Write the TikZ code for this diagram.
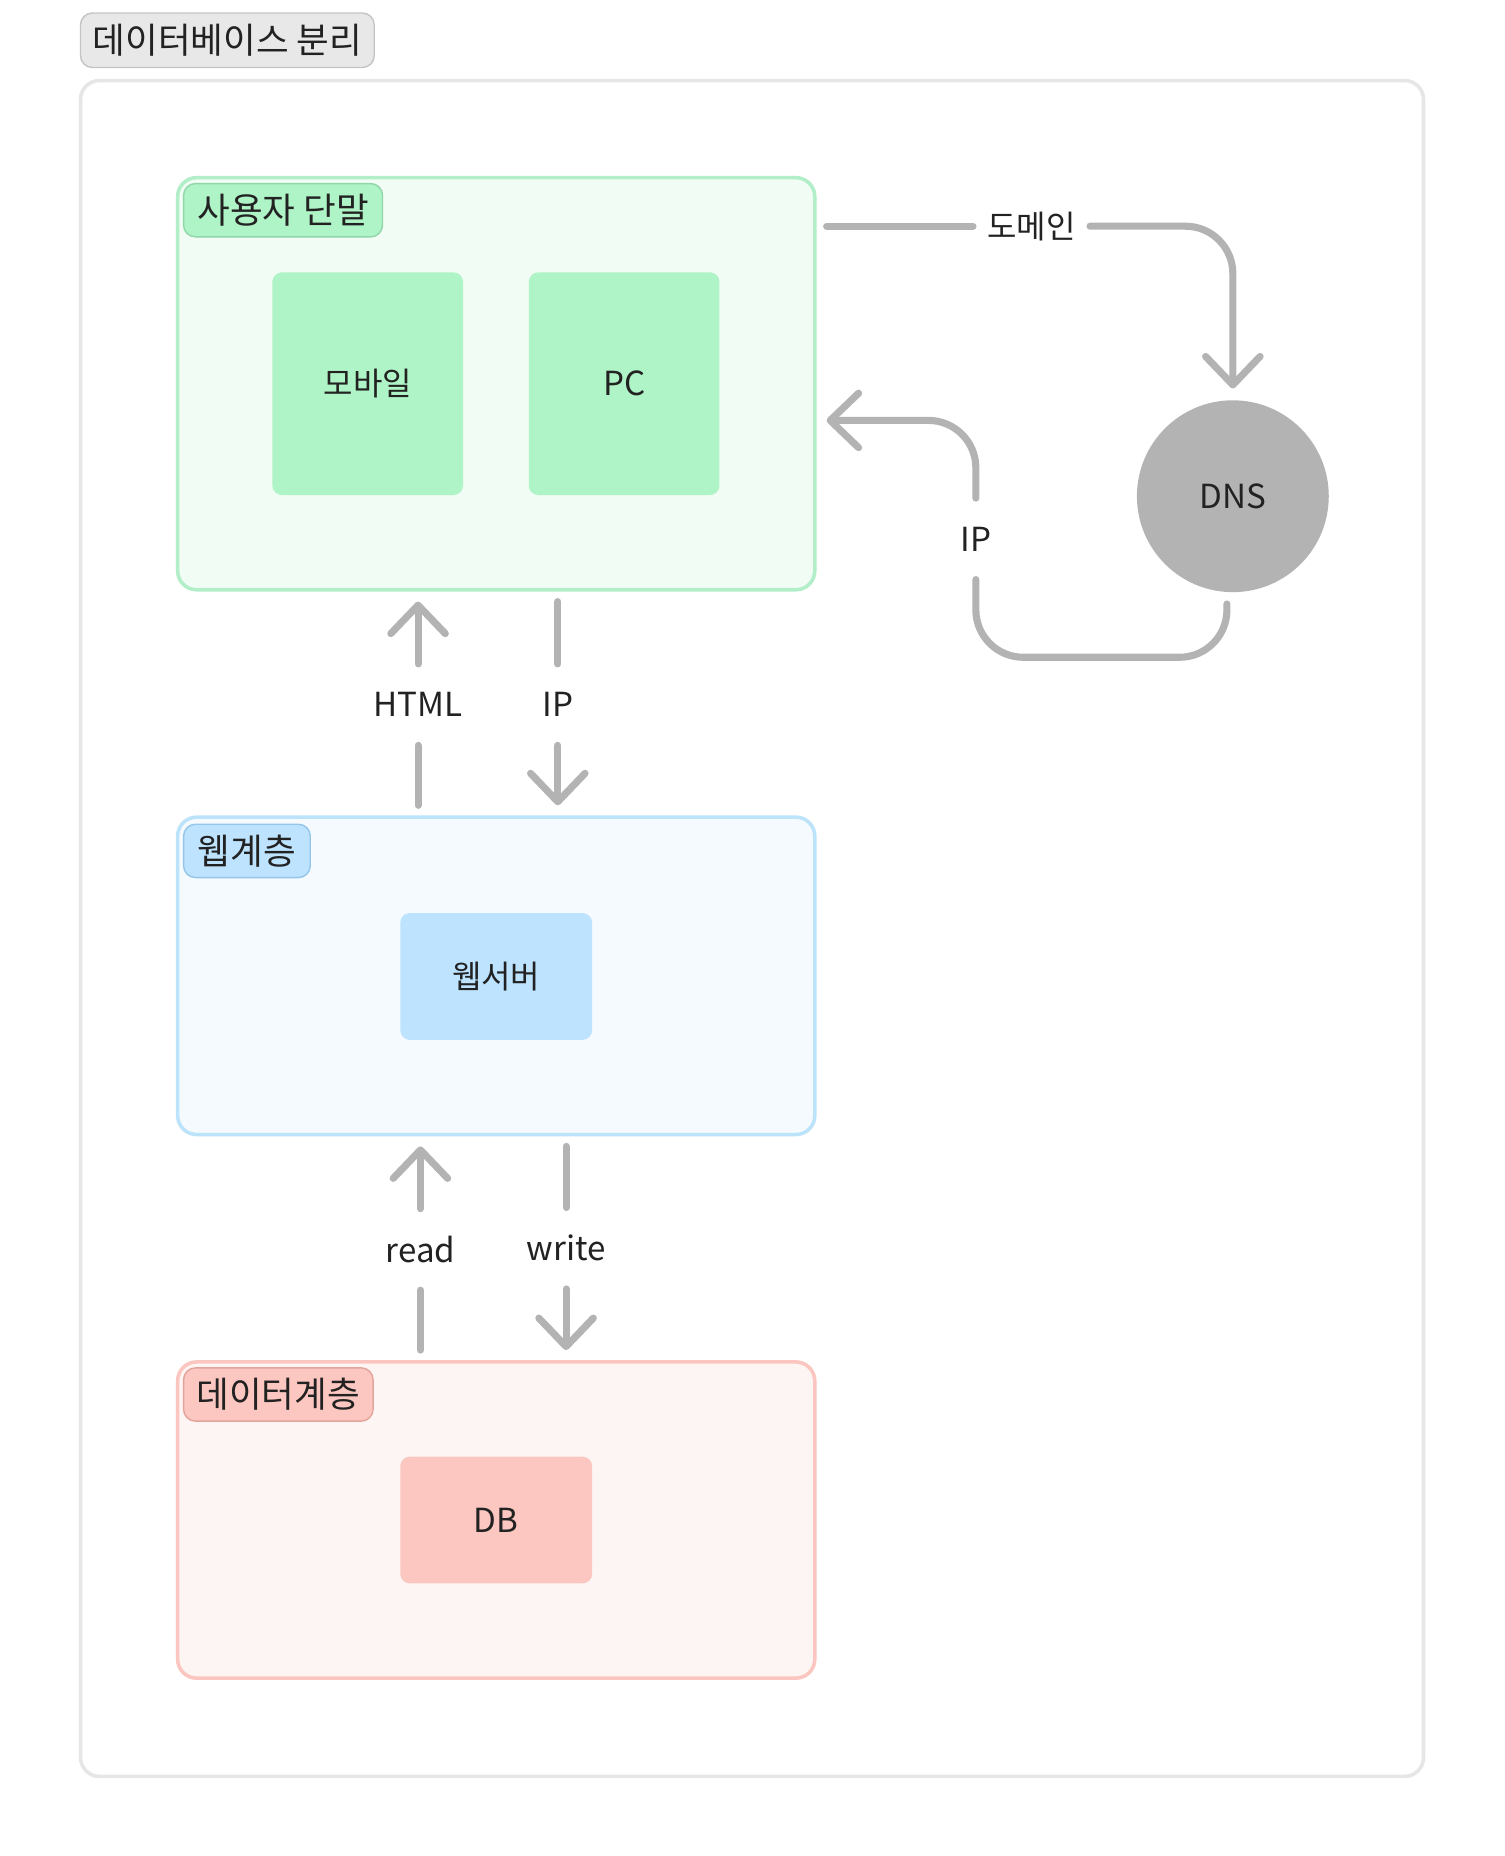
\documentclass[tikz,border=0pt]{standalone}
\usepackage{fontspec}
\setmainfont{Noto Sans CJK KR}
\usetikzlibrary{arrows.meta}

\definecolor{linegray}{HTML}{B3B3B3}
\definecolor{framegray}{HTML}{E6E6E6}
\definecolor{textdark}{HTML}{222222}
\definecolor{greenfill}{HTML}{F1FCF4}
\definecolor{greenline}{HTML}{B2EFC9}
\definecolor{greenbox}{HTML}{AFF4C6}
\definecolor{greentag}{HTML}{8FD6A8}
\definecolor{bluefill}{HTML}{F5FAFF}
\definecolor{blueline}{HTML}{BDE3FB}
\definecolor{bluebox}{HTML}{BDE3FF}
\definecolor{bluetag}{HTML}{95C6E8}
\definecolor{redfill}{HTML}{FDF5F3}
\definecolor{redline}{HTML}{FCC6C0}
\definecolor{redbox}{HTML}{FCC7C0}
\definecolor{redtag}{HTML}{E3A49C}

\tikzset{
    frame/.style={draw=framegray, fill=white, line width=1.5pt, rounded corners=8pt, inner sep=0pt},
    group/.style={line width=1.5pt, rounded corners=8pt, inner sep=0pt, outer sep=5pt, minimum width=269pt},
    tag/.style={draw, line width=0.6pt, rounded corners=5pt, inner sep=0pt, minimum height=22.5pt, font=\fontsize{15}{17}\selectfont, text=textdark},
    item/.style={rounded corners=4pt, inner sep=0pt, font=\fontsize{13.5}{15}\selectfont, text=textdark},
    conn/.style={draw=linegray, line width=3pt, line cap=round, line join=round},
    arrowtip/.style={-{Straight Barb[length=12pt, width=23pt, round]}},
    lbl/.style={inner sep=0pt, minimum height=34pt, font=\fontsize{13.5}{15}\selectfont, text=textdark},
    latin/.style={font=\fontsize{14}{16}\selectfont}
}

\begin{document}
\begin{tikzpicture}[x=0.5pt, y=-0.5pt]

    \useasboundingbox (0,0) rectangle (1270,1567.2);

    % title and frame
    \node[tag, draw=black!23, fill=black!9, minimum width=124pt, minimum height=23pt] (title) at (192,34) {데이터베이스 분리};
    \node[frame, minimum width=567pt, minimum height=716pt] (frame) at (635,784) {};

    % user side
    \node[group, draw=greenline, fill=greenfill, minimum height=174pt] (usergrp) at (419,324) {};
    \node[tag, draw=greentag, fill=greenbox, minimum width=84pt] (usertag) at (239,177.5) {사용자 단말};
    \node[item, fill=greenbox, minimum width=80.5pt, minimum height=94pt] (mobile) at (310.5,324) {모바일};
    \node[item, fill=greenbox, minimum width=80.5pt, minimum height=94pt, latin] (pc) at (527,324) {PC};

    % web layer
    \node[group, draw=blueline, fill=bluefill, minimum height=134pt] (webgrp) at (419,824) {};
    \node[tag, draw=bluetag, fill=bluebox, minimum width=53.5pt] (webtag) at (208.5,718.5) {웹계층};
    \node[item, fill=bluebox, minimum width=81pt, minimum height=53.5pt] (websrv) at (419,824.5) {웹서버};

    % data layer
    \node[group, draw=redline, fill=redfill, minimum height=133.5pt] (datagrp) at (419,1283.5) {};
    \node[tag, draw=redtag, fill=redbox, minimum width=80pt] (datatag) at (235,1177.5) {데이터계층};
    \node[item, fill=redbox, minimum width=81pt, minimum height=53.5pt, latin] (db) at (419,1283.5) {DB};

    % dns
    \node[circle, fill=linegray, inner sep=0pt, minimum size=81pt, outer sep=5pt, text=textdark, latin] (dns) at (1041,419) {DNS};

    % labels on the connectors
    \node[lbl, minimum width=49pt] (domlbl) at (871,191) {도메인};
    \node[lbl, latin] (dnsip) at (824,455) {IP};
    \node[lbl, latin] (htmllbl) at (353,595) {HTML};
    \node[lbl, latin] (iplbl) at (471,595) {IP};
    \node[lbl, latin] (readlbl) at (355,1055) {read};
    \node[lbl, latin] (writelbl) at (478,1054) {write};

    % domain lookup
    \draw[conn] (usergrp.east |- domlbl) -- (domlbl.west);
    \draw[conn, arrowtip, rounded corners=20pt] (domlbl.east) -| (dns.north);
    \draw[conn, rounded corners=20pt] ([xshift=-2.5pt]dns.south) -- ++(0,45) -| (dnsip.south);
    \draw[conn, arrowtip, rounded corners=20pt] (dnsip.north) |- ([yshift=-15.5pt]usergrp.east);

    % user <-> web
    \draw[conn] (htmllbl.south |- webgrp.north) -- (htmllbl.south);
    \draw[conn, arrowtip] (htmllbl.north) -- (htmllbl.north |- usergrp.south);
    \draw[conn] (iplbl.north |- usergrp.south) -- (iplbl.north);
    \draw[conn, arrowtip] (iplbl.south) -- (iplbl.south |- webgrp.north);

    % web <-> data
    \draw[conn] (readlbl.south |- datagrp.north) -- (readlbl.south);
    \draw[conn, arrowtip] (readlbl.north) -- (readlbl.north |- webgrp.south);
    \draw[conn] (writelbl.north |- webgrp.south) -- (writelbl.north);
    \draw[conn, arrowtip] (writelbl.south) -- (writelbl.south |- datagrp.north);

\end{tikzpicture}
\end{document}
